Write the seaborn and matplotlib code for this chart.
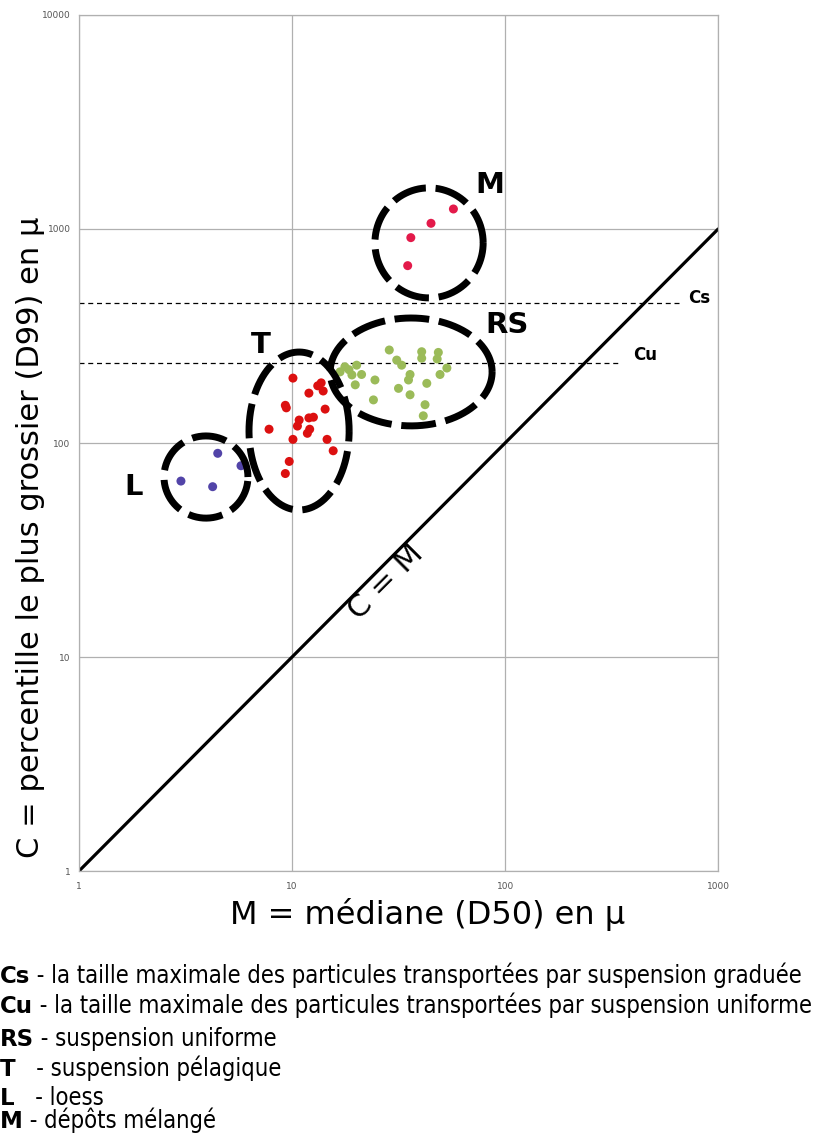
import numpy as np
import pandas as pd
import matplotlib
matplotlib.use("Agg")
import matplotlib.pyplot as plt
import seaborn as sns

# ---------------- data ----------------
T_M = [10.1, 13.7, 13.2, 12.0, 14.0, 9.3, 9.4, 14.3, 12.6, 12.0, 10.8, 10.6, 7.8, 12.1, 11.8, 10.1, 14.6, 15.6, 9.7, 9.3]
T_C = [201, 191, 185, 171, 175, 150, 146, 144, 132, 131, 128, 120, 116, 116, 111, 104, 104, 92, 82, 72]

RS_M = [28.6, 40.6, 40.6, 48.6, 48.0, 31.0, 32.7, 17.7, 20.1, 19.1, 21.2, 19.8, 24.5, 35.8, 35.2, 53.3, 49.5, 42.9, 31.6, 35.8, 24.1, 42.1, 41.3, 18.5, 16.8]
RS_C = [272, 267, 249, 265, 247, 244, 231, 227, 231, 208, 209, 187, 197, 209, 197, 224, 209, 190, 180, 168, 159, 151, 134, 220, 215]

L_M = [4.48, 5.76, 3.01, 4.24]
L_C = [89.5, 78.3, 66.4, 62.5]

M_M = [57.2, 44.9, 36.1, 34.9]
M_C = [1240, 1063, 911, 674]

Cs_value = 450
Cu_value = 236

groups = ["T", "RS", "L", "M"]
x_ticks = [1, 10, 100, 1000]
y_ticks = [1, 10, 100, 1000, 10000]

legend_items = [
    ("Cs", " - la taille maximale des particules transportées par suspension graduée"),
    ("Cu", " - la taille maximale des particules transportées par suspension uniforme"),
    ("RS", " - suspension uniforme"),
    ("T", "   - suspension pélagique"),
    ("L", "   - loess"),
    ("M", " - dépôts mélangé"),
]

# -------------- build frame --------------
df = pd.concat([
    pd.DataFrame({"M": T_M, "C": T_C, "group": "T"}),
    pd.DataFrame({"M": RS_M, "C": RS_C, "group": "RS"}),
    pd.DataFrame({"M": L_M, "C": L_C, "group": "L"}),
    pd.DataFrame({"M": M_M, "C": M_C, "group": "M"}),
], ignore_index=True)

palette = {"T": "#dc1010", "RS": "#9bbb59", "L": "#5244a8", "M": "#e31a4a"}

sns.set_theme(style="white")
plt.rcParams["font.family"] = ["DejaVu Sans"]
plt.rcParams["text.color"] = "black"
plt.rcParams["axes.labelcolor"] = "black"

fig = plt.figure(figsize=(8.34, 11.33), dpi=100)
ax = fig.add_axes([0.0947, 0.2312, 0.7664, 0.7556])

ax.set_xscale("log")
ax.set_yscale("log")
ax.set_xlim(1, 1000)
ax.set_ylim(1, 10000)

# grid
for v in x_ticks:
    ax.axvline(v, color="#b0b0b0", lw=0.9, zorder=0)
for v in y_ticks:
    ax.axhline(v, color="#b0b0b0", lw=0.9, zorder=0)
for s in ax.spines.values():
    s.set_color("#b0b0b0")
    s.set_linewidth(0.9)

sns.scatterplot(data=df, x="M", y="C", hue="group", palette=palette,
                s=42, edgecolor="none", legend=False, ax=ax, zorder=3)

# C = M line
ax.plot([1, 1000], [1, 1000], color="black", lw=2.3, zorder=2)
ax.text(10 ** 1.44, 10 ** 1.35, "C = M", rotation=45, fontsize=22,
        ha="center", va="center", rotation_mode="anchor")

# Cs / Cu dashed lines
ax.plot([1, 10 ** 2.82], [Cs_value, Cs_value], color="black", lw=0.9, ls=(0, (4, 3)), zorder=1)
ax.plot([1, 10 ** 2.54], [Cu_value, Cu_value], color="black", lw=0.9, ls=(0, (4, 3)), zorder=1)
ax.text(10 ** 2.86, 10 ** 2.677, "Cs", fontsize=12, fontweight="bold", ha="left", va="center")
ax.text(10 ** 2.60, 10 ** 2.411, "Cu", fontsize=12, fontweight="bold", ha="left", va="center")

# dashed ellipses (log space)
ellipses = {
    "M": (1.643, 2.935, 0.254, 0.257),
    "RS": (1.559, 2.332, 0.380, 0.252),
    "T": (1.033, 2.056, 0.235, 0.369),
    "L": (0.596, 1.841, 0.197, 0.192),
}
t = np.linspace(0, 2 * np.pi, 400)
for k, (cx, cy, rx, ry) in ellipses.items():
    ax.plot(10 ** (cx + rx * np.cos(t)), 10 ** (cy + ry * np.sin(t)),
            color="black", lw=5, ls=(0, (5.0, 1.4)), zorder=4, dash_capstyle="butt")

label_pos = {"M": (10 ** 1.93, 10 ** 3.206), "RS": (10 ** 2.01, 10 ** 2.55),
             "T": (10 ** 0.855, 10 ** 2.458), "L": (10 ** 0.255, 10 ** 1.795)}
for k, (lx, ly) in label_pos.items():
    ax.text(lx, ly, k, fontsize=21, fontweight="bold", ha="center", va="center")

# ticks
ax.set_xticks(x_ticks)
ax.set_xticklabels([str(v) for v in x_ticks])
ax.set_yticks(y_ticks)
ax.set_yticklabels([str(v) for v in y_ticks])
ax.minorticks_off()
ax.tick_params(axis="both", labelsize=6.5, colors="#555555", length=0, pad=8)
ax.tick_params(axis="y", pad=6)

ax.set_xlabel("M = médiane (D50) en µ", fontsize=23)
ax.xaxis.set_label_coords(0.546, -0.031)
ax.set_ylabel("C = percentille le plus grossier (D99) en µ", fontsize=22)
ax.yaxis.set_label_coords(-0.053, 0.39)

# legend text below
ys = [0.1324, 0.1059, 0.0768, 0.0503, 0.0247, 0.0044]
for (b, rest), y in zip(legend_items, ys):
    tb = fig.text(0.0, y, b, fontsize=16.5, fontweight="bold", va="baseline", ha="left")
    ax.annotate(rest, xy=(1, 0), xycoords=tb, va="bottom", ha="left", fontsize=17.1,
                fontstretch="condensed", annotation_clip=False)

fig.savefig("out.png", dpi=100)
